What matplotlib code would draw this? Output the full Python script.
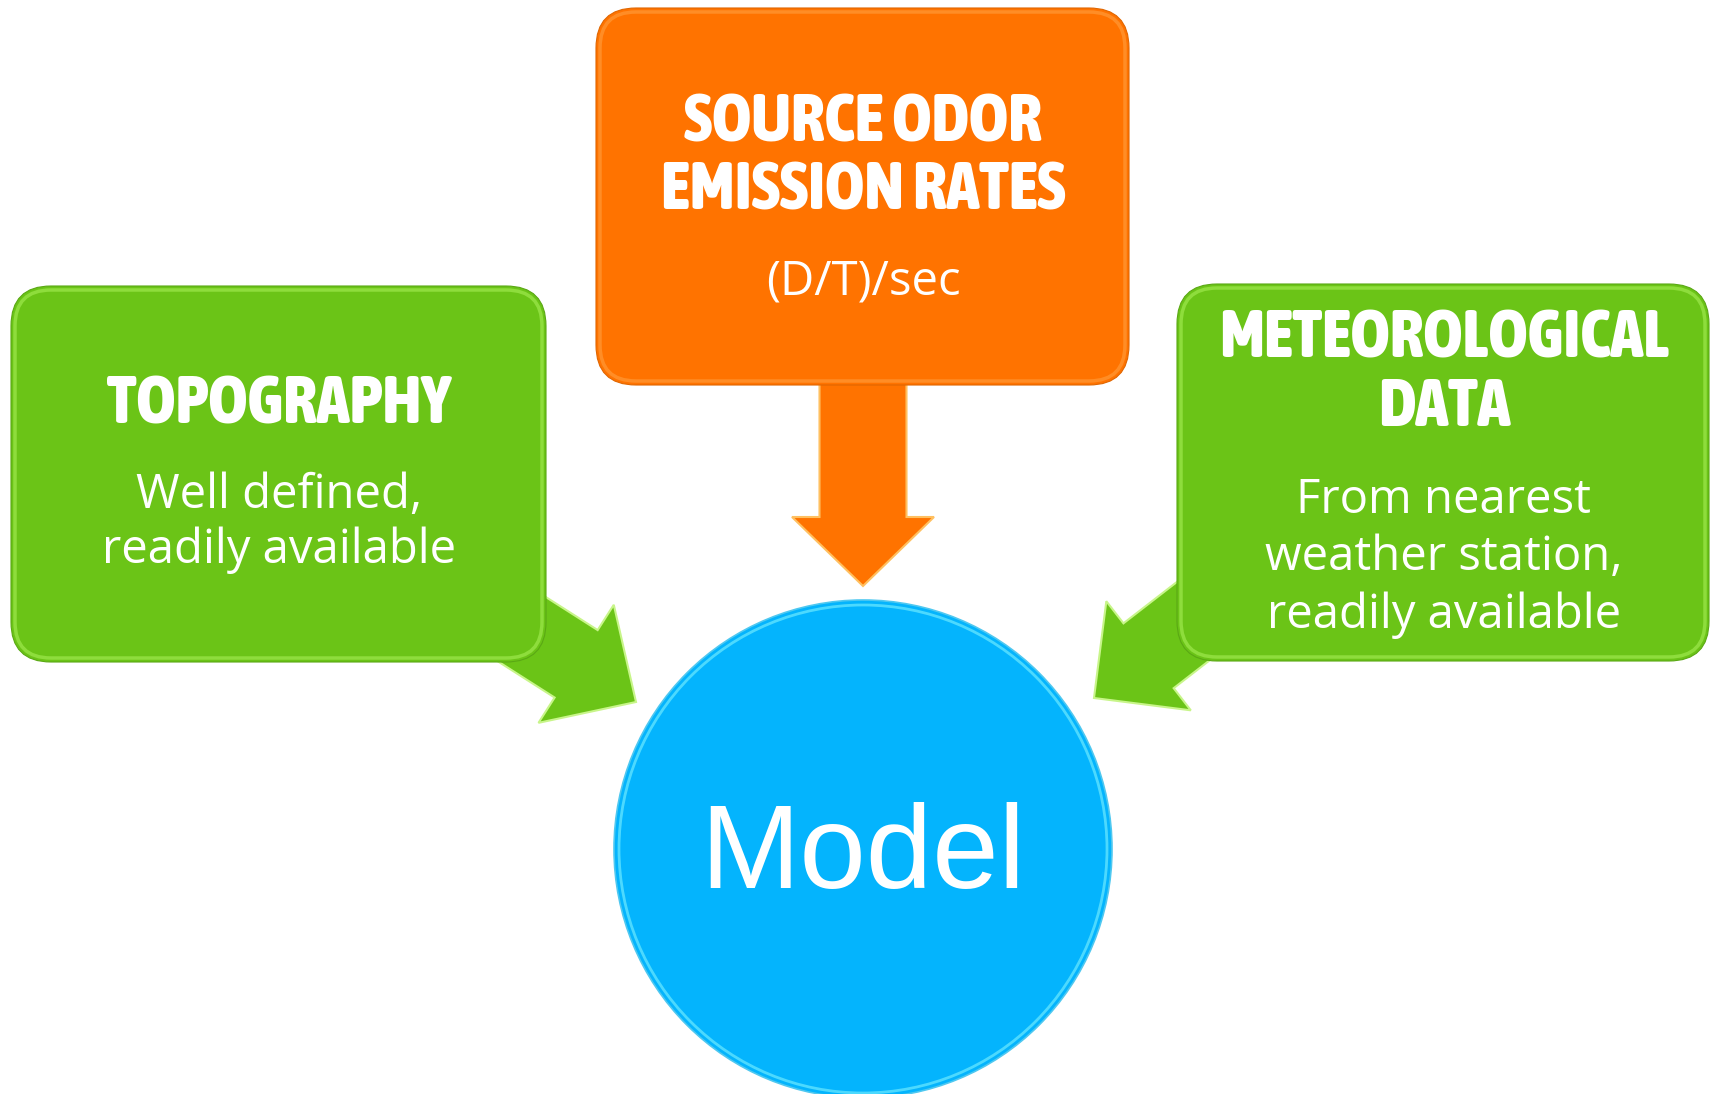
import matplotlib.pyplot as plt
import numpy as np
from matplotlib import font_manager as fm
from matplotlib.patches import FancyBboxPatch, Circle, Polygon

# box texts: left, top, right
titles = [["TOPOGRAPHY"], ["SOURCE ODOR", "EMISSION RATES"], ["METEOROLOGICAL", "DATA"]]
notes = [["Well defined,", "readily available"], ["(D/T)/sec"],
         ["From nearest", "weather station,", "readily available"]]
center_label = "Model"

GREEN = '#6BC417'
ORANGE = '#FF7300'
BLUE = '#04B4FD'


def _weight(f):
    w = f.weight
    if isinstance(w, str):
        w = fm.weight_dict.get(w, 400)
    return w


def condensed_bold(target=800):
    # heavy narrow face among the installed fonts
    best = None
    for f in fm.fontManager.ttflist:
        key = (f.name + ' ' + f.fname).lower()
        narrow = ('condensed' in key or 'narrow' in key or
                  str(f.stretch) in ('condensed', 'semi-condensed', 'extra-condensed'))
        if not narrow or f.style != 'normal':
            continue
        w = _weight(f)
        if w < 600:
            continue
        score = abs(w - target) / 100
        if 'semi' in key:
            score += 1
        elif 'extra' in key.replace('extrabold', ''):
            score += 2
        if best is None or score < best[0]:
            best = (score, f.fname)
    if best:
        return fm.FontProperties(fname=best[1])
    return fm.FontProperties(family=['Roboto', 'DejaVu Sans'], weight='bold')


fig = plt.figure(figsize=(17.11, 10.94), dpi=100)
ax = fig.add_axes([0, 0, 1, 1])
ax.set_xlim(0, 1711)
ax.set_ylim(1094, 0)
ax.axis('off')

title_fp = condensed_bold()
NOTE_FONT = dict(family=['Open Sans', 'DejaVu Sans'], size=34, color='white')


def arrow(start, tip, shaft_w, head_w, head_len, color, light):
    start = np.array(start, float)
    tip = np.array(tip, float)
    d = (tip - start) / np.linalg.norm(tip - start)
    n = np.array([-d[1], d[0]])
    base = tip - d * head_len
    pts = [start + n * shaft_w / 2, base + n * shaft_w / 2, base + n * head_w / 2, tip,
           base - n * head_w / 2, base - n * shaft_w / 2, start - n * shaft_w / 2]
    ax.add_patch(Polygon(pts, closed=True, facecolor=color, edgecolor=light, lw=1.5, zorder=1))


def box(x0, y0, x1, y1, color, light, dark):
    ax.add_patch(FancyBboxPatch((x0, y0), x1 - x0, y1 - y0,
                                boxstyle="round,pad=0,rounding_size=40",
                                facecolor=color, edgecolor=dark, lw=0.8, zorder=2))
    ax.add_patch(FancyBboxPatch((x0 + 4, y0 + 4), x1 - x0 - 8, y1 - y0 - 8,
                                boxstyle="round,pad=0,rounding_size=36",
                                facecolor='none', edgecolor=light, lw=2.5, alpha=0.6, zorder=2))


# arrows sit behind the boxes
arrow((451, 584), (636, 702), 80, 140, 71, GREEN, '#C8F58A')
arrow((1280, 554), (1094, 698), 82, 138, 69, GREEN, '#C8F58A')
arrow((863, 300), (863, 586), 87, 142, 69, ORANGE, '#FFC060')

box(11, 286, 546, 662, GREEN, '#A6EE55', '#5AA814')
box(596, 8, 1129, 385, ORANGE, '#FFA040', '#E06600')
box(1177, 284, 1709, 661, GREEN, '#A6EE55', '#5AA814')

ax.add_patch(Circle((863, 849), 249, facecolor=BLUE, edgecolor='#4FC8F0', lw=1.2, zorder=2))
ax.add_patch(Circle((863, 849), 244, facecolor='none', edgecolor='#7DF2FF', lw=2, alpha=0.6, zorder=2))

centers = [279, 863, 1444]
title_base = [[423], [142, 209], [357, 426]]
note_base = [[508, 563], [295], [513, 570, 628]]

title_texts = []
for cx, tl, nl, tb, nb in zip(centers, titles, notes, title_base, note_base):
    for s, y in zip(tl, tb):
        title_texts.append(ax.text(cx, y, s, ha='center', va='baseline', color='white',
                                   fontproperties=title_fp, size=42, zorder=3))
    for s, y in zip(nl, nb):
        ax.text(cx, y, s, ha='center', va='baseline', zorder=3, **NOTE_FONT)

# size the headings so the widest one spans about 451 px
renderer = fig.canvas.get_renderer()
widest = max(t.get_window_extent(renderer).width for t in title_texts)
for t in title_texts:
    t.set_fontsize(42 * 451 / widest)

ax.text(863, 888, center_label, ha='center', va='baseline', color='white',
        family=['Liberation Sans', 'DejaVu Sans'], size=86, zorder=3)

fig.savefig('out.png', dpi=100, facecolor='white')
